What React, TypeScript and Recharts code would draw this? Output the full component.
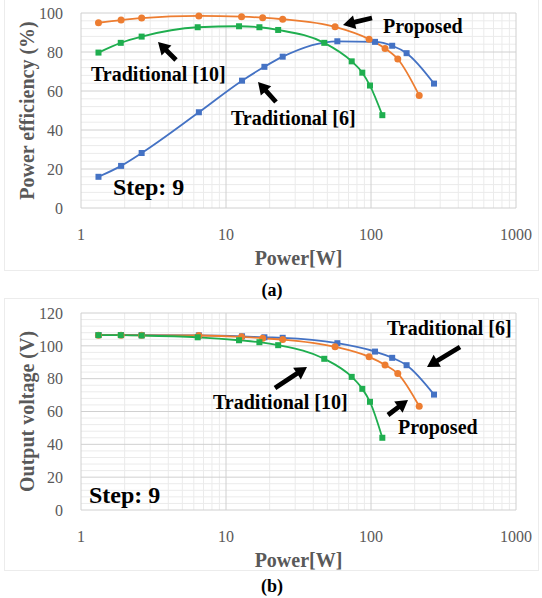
import React from 'react';
import { LineChart, Line, XAxis, YAxis, ReferenceLine } from 'recharts';

// x axis (log) ticks
const powerTicks = [1, 10, 100, 1000];
const effTicks = [0, 20, 40, 60, 80, 100];
const voltTicks = [0, 20, 40, 60, 80, 100, 120];

// Proposed
const powerProposed = [1.32, 1.89, 2.62, 6.5, 12.8, 17.9, 24.6, 56.5, 97, 125, 153, 215];
const effProposed = [95.0, 96.4, 97.4, 98.5, 98.1, 97.6, 96.8, 92.9, 86.6, 81.8, 76.4, 57.7];
const voltProposed = [106.5, 106.5, 106.4, 106.3, 105.5, 104.6, 103.8, 99.4, 93.3, 88.4, 83.1, 63.2];

// Traditional [6]
const powerTrad6 = [1.32, 1.89, 2.62, 6.5, 12.9, 18.4, 24.6, 58.6, 106.6, 140, 176, 272];
const effTrad6 = [16.0, 21.6, 28.2, 49.1, 65.3, 72.4, 77.6, 85.5, 85.2, 83.2, 79.4, 63.8];
const voltTrad6 = [106.6, 106.6, 106.5, 106.4, 105.8, 105.2, 104.9, 101.6, 96.5, 92.7, 88.2, 70.3];

// Traditional [10]
const powerTrad10 = [1.32, 1.88, 2.62, 6.38, 12.3, 17.0, 22.9, 47.6, 73.6, 87.1, 98.4, 119.7];
const effTrad10 = [79.7, 84.7, 87.9, 92.7, 93.2, 92.7, 91.3, 84.7, 75.2, 69.4, 62.8, 47.6];
const voltTrad10 = [106.5, 106.5, 106.3, 105.2, 103.4, 102.2, 100.4, 92.1, 81.1, 73.8, 65.9, 44.0];

const ORANGE = '#ED7D31';
const BLUE = '#4472C4';
const GREEN = '#1FAE4F';
const GRAY = '#595959';
const MAJOR = '#d0d0d0';
const MINOR = '#ebebeb';
const FONT = '"Liberation Serif", "Times New Roman", serif';

const zip = (xs: number[], ys: number[]) => xs.map((p, i) => ({ p, v: ys[i] }));

// minor gridlines: 2..9 per decade on the log axis, every 4 units on y
const minorPower = [1, 10, 100].flatMap((d) => [2, 3, 4, 5, 6, 7, 8, 9].map((k) => k * d));
const minorEff = Array.from({ length: 26 }, (_, i) => i * 4).filter((v) => v % 20 !== 0);
const minorVolt = Array.from({ length: 31 }, (_, i) => i * 4).filter((v) => v % 20 !== 0);

const squareDot = (color: string) => (props: any) => (
    <rect
        key={`sq-${props.index}`}
        x={props.cx - 3}
        y={props.cy - 3}
        width={6}
        height={6}
        fill={color}
    />
);

const Arrow = ({ x1, y1, x2, y2 }: { x1: number; y1: number; x2: number; y2: number }) => {
    const dx = x2 - x1;
    const dy = y2 - y1;
    const len = Math.hypot(dx, dy);
    const ux = dx / len;
    const uy = dy / len;
    const nx = -uy;
    const ny = ux;
    const head = 12;
    const hw = 7;
    const sw = 2.4;
    const bx = x2 - ux * head;
    const by = y2 - uy * head;
    const pts = [
        [x1 + nx * sw, y1 + ny * sw],
        [bx + nx * sw, by + ny * sw],
        [bx + nx * hw, by + ny * hw],
        [x2, y2],
        [bx - nx * hw, by - ny * hw],
        [bx - nx * sw, by - ny * sw],
        [x1 - nx * sw, y1 - ny * sw],
    ];
    return <polygon points={pts.map((q) => q.join(',')).join(' ')} fill="#000" />;
};

interface PanelProps {
    proposed: { p: number; v: number }[];
    trad6: { p: number; v: number }[];
    trad10: { p: number; v: number }[];
    yTicks: number[];
    yMax: number;
    yMinor: number[];
    yLabel: string;
    bottomMargin: number;
}

const Panel: React.FC<PanelProps> = ({ proposed, trad6, trad10, yTicks, yMax, yMinor, yLabel, bottomMargin }) => (
    <LineChart width={542} height={280} margin={{ top: 13, right: 26, left: 0, bottom: bottomMargin }}>
        {/* gridlines as reference lines: minor first, major on top */}
        {yMinor.map((t) => (
            <ReferenceLine key={`my-${t}`} y={t} stroke={MINOR} strokeWidth={1} />
        ))}
        {minorPower.map((t) => (
            <ReferenceLine key={`mx-${t}`} x={t} stroke={MINOR} strokeWidth={1} />
        ))}
        {yTicks.map((t) => (
            <ReferenceLine key={`hy-${t}`} y={t} stroke={MAJOR} strokeWidth={1} />
        ))}
        {powerTicks.map((t) => (
            <ReferenceLine key={`vx-${t}`} x={t} stroke={MAJOR} strokeWidth={1} />
        ))}
        <XAxis
            dataKey="p"
            type="number"
            scale="log"
            domain={[1, 1000]}
            ticks={powerTicks}
            allowDataOverflow
            height={60}
            axisLine={false}
            tickLine={false}
            tickSize={0}
            tickMargin={21}
            tick={{ fill: GRAY, fontSize: 16, fontFamily: FONT }}
            label={{
                value: 'Power[W]',
                position: 'insideBottom',
                offset: 3,
                fill: GRAY,
                fontSize: 20,
                fontWeight: 'bold',
                fontFamily: FONT,
            }}
        />
        <YAxis
            dataKey="v"
            type="number"
            domain={[0, yMax]}
            ticks={yTicks}
            width={81}
            axisLine={false}
            tickLine={false}
            tickSize={0}
            tickMargin={18}
            tick={{ fill: GRAY, fontSize: 16, fontFamily: FONT }}
            label={{
                value: yLabel,
                angle: -90,
                position: 'insideLeft',
                offset: 27,
                fill: GRAY,
                fontSize: 20,
                fontWeight: 'bold',
                fontFamily: FONT,
                style: { textAnchor: 'middle' },
            }}
        />
        <Line
            data={trad6}
            dataKey="v"
            type="monotone"
            stroke={BLUE}
            strokeWidth={1.8}
            dot={squareDot(BLUE)}
            isAnimationActive={false}
        />
        <Line
            data={proposed}
            dataKey="v"
            type="monotone"
            stroke={ORANGE}
            strokeWidth={1.8}
            dot={{ r: 3.5, fill: ORANGE, stroke: ORANGE, strokeWidth: 0 }}
            isAnimationActive={false}
        />
        <Line
            data={trad10}
            dataKey="v"
            type="monotone"
            stroke={GREEN}
            strokeWidth={1.8}
            dot={squareDot(GREEN)}
            isAnimationActive={false}
        />
    </LineChart>
);

const noteStyle = { fontFamily: FONT, fontWeight: 'bold' as const, fill: '#000' };

export default function App() {
    return (
        <div style={{ position: 'absolute', left: 0, top: 0, width: 542, height: 598, background: '#fff' }}>
            <div style={{ position: 'absolute', left: 4, top: -1, width: 535, height: 272, border: '1px solid #ececec', boxSizing: 'border-box' }} />
            <div style={{ position: 'absolute', left: 4, top: 298, width: 535, height: 273, border: '1px solid #ececec', boxSizing: 'border-box' }} />
            <div style={{ position: 'absolute', left: 0, top: 0 }}>
                <Panel
                    proposed={zip(powerProposed, effProposed)}
                    trad6={zip(powerTrad6, effTrad6)}
                    trad10={zip(powerTrad10, effTrad10)}
                    yTicks={effTicks}
                    yMax={100}
                    yMinor={minorEff}
                    yLabel="Power efficiency (%)"
                    bottomMargin={12}
                />
            </div>
            <div style={{ position: 'absolute', left: 0, top: 300 }}>
                <Panel
                    proposed={zip(powerProposed, voltProposed)}
                    trad6={zip(powerTrad6, voltTrad6)}
                    trad10={zip(powerTrad10, voltTrad10)}
                    yTicks={voltTicks}
                    yMax={120}
                    yMinor={minorVolt}
                    yLabel="Output voltage (V)"
                    bottomMargin={10}
                />
            </div>
            <svg width={542} height={598} style={{ position: 'absolute', left: 0, top: 0, pointerEvents: 'none' }}>
                {/* (a) annotations */}
                <Arrow x1={372} y1={18} x2={343} y2={25} />
                <text x={383} y={33} fontSize={20} {...noteStyle}>Proposed</text>
                <Arrow x1={176} y1={60} x2={158} y2={42} />
                <text x={91} y={81} fontSize={20} {...noteStyle}>Traditional [10]</text>
                <Arrow x1={276} y1={102} x2={258} y2={82} />
                <text x={231} y={125} fontSize={20} {...noteStyle}>Traditional [6]</text>
                <text x={113} y={195} fontSize={24} {...noteStyle}>Step: 9</text>
                <text x={272} y={296} fontSize={18} textAnchor="middle" {...noteStyle}>(a)</text>

                {/* (b) annotations */}
                <Arrow x1={275} y1={388} x2={307} y2={367} />
                <text x={213} y={409} fontSize={20} {...noteStyle}>Traditional [10]</text>
                <Arrow x1={460} y1={347} x2={427} y2={367} />
                <text x={387} y={335} fontSize={20} {...noteStyle}>Traditional [6]</text>
                <Arrow x1={388} y1={415} x2={408} y2={400} />
                <text x={398} y={434} fontSize={20} {...noteStyle}>Proposed</text>
                <text x={89} y={503} fontSize={24} {...noteStyle}>Step: 9</text>
                <text x={272} y={592} fontSize={18} textAnchor="middle" {...noteStyle}>(b)</text>
            </svg>
        </div>
    );
}
